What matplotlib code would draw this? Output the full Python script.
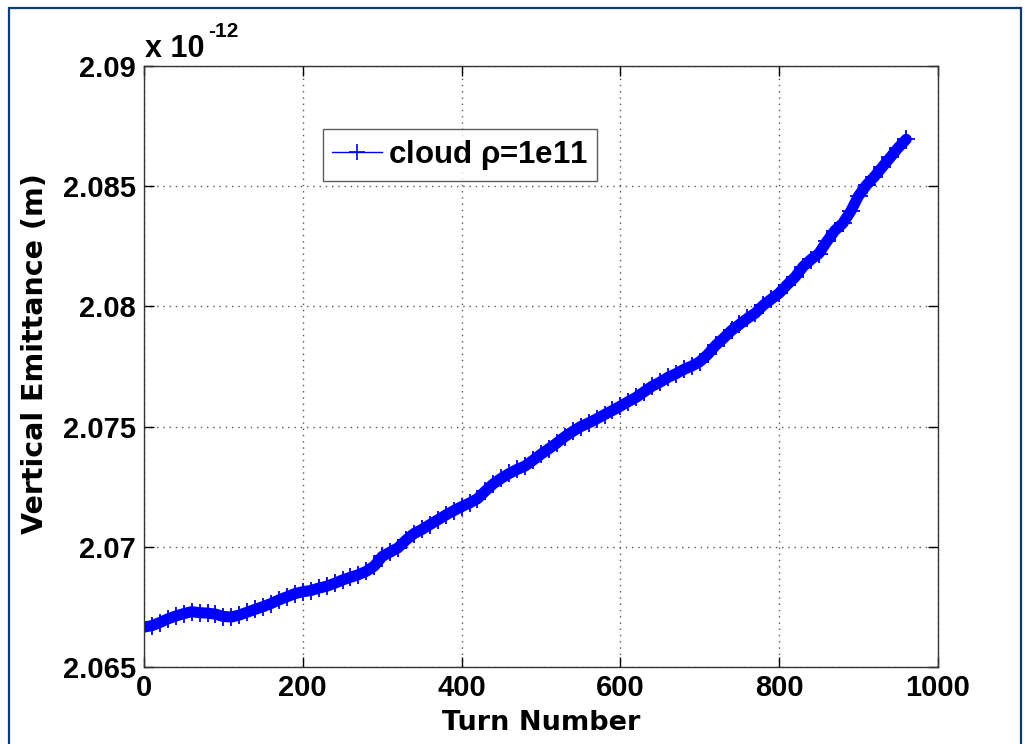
import matplotlib
matplotlib.use("Agg")
import matplotlib.pyplot as plt
from matplotlib.lines import Line2D
from matplotlib.patches import Rectangle

plt.rcParams["font.family"] = ["Liberation Sans", "DejaVu Sans"]
plt.rcParams["font.weight"] = "bold"
plt.rcParams["mathtext.default"] = "regular"

# turn number and vertical emittance (units of 1e-12 m)
turns = [0, 10, 20, 30, 40, 50, 60, 70, 80, 90,
         100, 110, 120, 130, 140, 150, 160, 170, 180, 190,
         200, 210, 220, 230, 240, 250, 260, 270, 280, 290,
         300, 310, 320, 330, 340, 350, 360, 370, 380, 390,
         400, 410, 420, 430, 440, 450, 460, 470, 480, 490,
         500, 510, 520, 530, 540, 550, 560, 570, 580, 590,
         600, 610, 620, 630, 640, 650, 660, 670, 680, 690,
         700, 710, 720, 730, 740, 750, 760, 770, 780, 790,
         800, 810, 820, 830, 840, 850, 860, 870, 880, 890,
         900, 910, 920, 930, 940, 950, 960]
emit = [2.06666, 2.06672, 2.06685, 2.06700, 2.06712, 2.06722, 2.06730, 2.06726, 2.06724, 2.06720,
        2.06710, 2.06708, 2.06716, 2.06728, 2.06740, 2.06751, 2.06764, 2.06779, 2.06792, 2.06805,
        2.06813, 2.06818, 2.06828, 2.06836, 2.06848, 2.06862, 2.06873, 2.06884, 2.06898, 2.06920,
        2.06960, 2.06978, 2.06996, 2.07028, 2.07055, 2.07072, 2.07092, 2.07112, 2.07132, 2.07150,
        2.07167, 2.07182, 2.07200, 2.07232, 2.07262, 2.07285, 2.07305, 2.07322, 2.07336, 2.07360,
        2.07385, 2.07408, 2.07432, 2.07458, 2.07480, 2.07500, 2.07515, 2.07532, 2.07550, 2.07567,
        2.07585, 2.07604, 2.07622, 2.07645, 2.07668, 2.07685, 2.07705, 2.07720, 2.07738, 2.07752,
        2.07770, 2.07800, 2.07838, 2.07868, 2.07900, 2.07925, 2.07950, 2.07972, 2.08005, 2.08030,
        2.08055, 2.08090, 2.08122, 2.08165, 2.08195, 2.08220, 2.08270, 2.08315, 2.08345, 2.08395,
        2.08460, 2.08505, 2.08540, 2.08580, 2.08620, 2.08660, 2.08695]

xticks = [0, 200, 400, 600, 800, 1000]
yticks = [2.065, 2.07, 2.075, 2.08, 2.085, 2.09]
ytick_labels = ["2.065", "2.07", "2.075", "2.08", "2.085", "2.09"]

fig = plt.figure(figsize=(10.25, 7.44), dpi=100)
ax = fig.add_axes([0.1405, 0.1035, 0.7746, 0.8078])

# thick band + markers to look like the dense '+' trace
ax.plot(turns, emit, color="#0000ff", lw=8, solid_joinstyle="round", solid_capstyle="round")
ax.plot(turns, emit, color="#0000ff", lw=1, marker="+", markersize=13, mew=1.3)

ax.set_xlim(0, 1000)
ax.set_ylim(2.065, 2.09)
ax.set_xticks(xticks)
ax.set_xticklabels([str(t) for t in xticks])
ax.set_yticks(yticks)
ax.set_yticklabels(ytick_labels)
ax.tick_params(direction="in", length=7, width=1, top=True, right=True,
               labelsize=21)
ax.tick_params(axis="x", pad=5)
ax.tick_params(axis="y", pad=6)
for lab in ax.get_xticklabels() + ax.get_yticklabels():
    lab.set_fontweight("bold")
ax.grid(True, linestyle=(0, (1, 3.5)), color="#555555", lw=1)
for s in ax.spines.values():
    s.set_color("#333333")
    s.set_linewidth(1)

# the axis labels in the original are wide, DejaVu fits their proportions
ax.set_xlabel("Turn Number", fontsize=19.5, fontweight="bold", family="DejaVu Sans",
              labelpad=6)
ax.set_ylabel("Vertical Emittance (m)", fontsize=20.5, fontweight="bold",
              family="DejaVu Sans")
ax.yaxis.set_label_coords(-0.12, 0.521)

# exponent label like MATLAB's "x 10^-12"
fig.text(145 / 1025, 1 - 57 / 744, "x 10", fontsize=22, fontweight="bold",
         ha="left", va="baseline")
fig.text(208 / 1025, 1 - 37 / 744, "-12", fontsize=15, fontweight="bold",
         ha="left", va="baseline")

handle = Line2D([], [], color="#0000ff", lw=1, marker="+", markersize=12, mew=1.2)
leg = ax.legend([handle], ["cloud $\\rho$=1e11"], loc="upper left",
                bbox_to_anchor=(0.2254, 0.895), fontsize=22.5, frameon=True,
                fancybox=False, handlelength=1.6, handletextpad=0.2,
                borderpad=0.28, borderaxespad=0)
leg.get_frame().set_edgecolor("#333333")
leg.get_frame().set_linewidth(1)
for t in leg.get_texts():
    t.set_fontweight("bold")

fig.patches.append(Rectangle((9 / 1025, -0.01), 1012 / 1025, 1 - 8 / 744 + 0.01,
                             transform=fig.transFigure, fill=False,
                             edgecolor="#0b3d70", lw=1.6))

fig.savefig("out.png", dpi=100)
